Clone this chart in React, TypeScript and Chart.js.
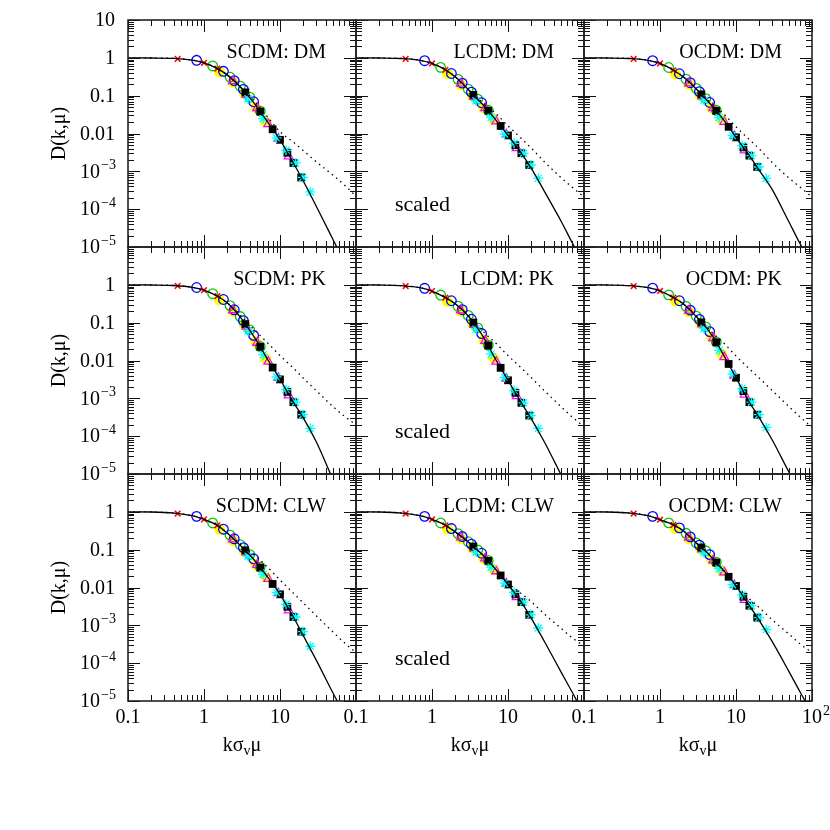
import React, { useEffect, useRef } from "react";
import { Chart, registerables } from "chart.js";

Chart.register(...registerables);

// ---------- data ----------
const kGrid = [0.1, 0.2, 0.4, 0.7, 1, 1.5, 2, 3, 4, 5, 7, 10, 15, 20, 30, 50, 70, 100];

const panelTitles = [
  "SCDM: DM", "LCDM: DM", "OCDM: DM",
  "SCDM: PK", "LCDM: PK", "OCDM: PK",
  "SCDM: CLW", "LCDM: CLW", "OCDM: CLW",
];

// tick labels (base text + superscript exponent)
const xTickValues = [0.1, 1, 10, 100];
const xTickBase = ["0.1", "1", "10", "10"];
const xTickExp = ["", "", "", "2"];
const yTickValues = [10, 1, 0.1, 0.01, 1e-3, 1e-4, 1e-5];
const yTickBase = ["10", "1", "0.1", "0.01", "10", "10", "10"];
const yTickExp = ["", "", "", "", "−3", "−4", "−5"];

// solid model curves on kGrid
const solidScdmDm = [1, 0.99, 0.97, 0.87, 0.74, 0.52, 0.36, 0.17, 0.089, 0.05, 0.019, 6.8e-3, 1.66e-3, 5.8e-4, 1.2e-4, 1.55e-5, 4e-6, 9e-7];
const solidLcdmDm = [1, 0.99, 0.96, 0.86, 0.71, 0.48, 0.32, 0.145, 0.079, 0.05, 0.022, 8.9e-3, 3e-3, 1.26e-3, 3e-4, 4.8e-5, 1.3e-5, 3.5e-6];
const solidOcdmDm = [1, 0.99, 0.96, 0.86, 0.71, 0.47, 0.32, 0.15, 0.081, 0.05, 0.022, 7.9e-3, 2.6e-3, 1.1e-3, 3.3e-4, 4.5e-5, 1.2e-5, 3.2e-6];
const solidScdmPk = [1, 0.99, 0.96, 0.86, 0.72, 0.5, 0.34, 0.14, 0.063, 0.032, 0.01, 3.2e-3, 7.9e-4, 3.2e-4, 7.1e-5, 7.1e-6, 1.8e-6, 4e-7];
const solidLcdmPk = [1, 0.99, 0.95, 0.84, 0.68, 0.46, 0.32, 0.15, 0.071, 0.035, 0.01, 3e-3, 7.6e-4, 3e-4, 7.1e-5, 9.5e-6, 2.5e-6, 6.3e-7];
const solidOcdmPk = [1, 0.99, 0.95, 0.84, 0.69, 0.46, 0.32, 0.145, 0.076, 0.042, 0.013, 3.5e-3, 7.9e-4, 3.2e-4, 7.9e-5, 1.1e-5, 3.2e-6, 7.9e-7];
const solidScdmClw = [1, 0.99, 0.93, 0.79, 0.63, 0.44, 0.28, 0.13, 0.072, 0.043, 0.018, 6.6e-3, 1.66e-3, 5.6e-4, 1.2e-4, 1.6e-5, 4.5e-6, 1.1e-6];
const solidLcdmClw = [1, 0.99, 0.93, 0.79, 0.63, 0.44, 0.3, 0.16, 0.095, 0.063, 0.029, 0.012, 4.1e-3, 1.6e-3, 3.8e-4, 5.8e-5, 1.7e-5, 4.5e-6];
const solidOcdmClw = [1, 0.99, 0.93, 0.79, 0.62, 0.45, 0.32, 0.15, 0.091, 0.056, 0.027, 0.011, 3.3e-3, 1.4e-3, 3.7e-4, 5.9e-5, 1.7e-5, 4.8e-6];

// dotted model curves on kGrid
const dotScdmDm = [1, 0.99, 0.97, 0.87, 0.74, 0.52, 0.36, 0.17, 0.1, 0.059, 0.026, 0.0112, 5.9e-3, 3.6e-3, 1.8e-3, 7.8e-4, 4.4e-4, 2.2e-4];
const dotLcdmDm = [1, 0.99, 0.96, 0.86, 0.71, 0.48, 0.32, 0.145, 0.085, 0.058, 0.033, 0.0158, 7.4e-3, 4.2e-3, 1.8e-3, 6.8e-4, 3.8e-4, 2.1e-4];
const dotOcdmDm = [1, 0.99, 0.96, 0.86, 0.71, 0.47, 0.32, 0.15, 0.085, 0.058, 0.032, 0.015, 6.9e-3, 4e-3, 1.7e-3, 6.6e-4, 3.8e-4, 2.1e-4];
const dotScdmPk = [1, 0.99, 0.96, 0.86, 0.72, 0.5, 0.34, 0.16, 0.085, 0.055, 0.028, 0.0135, 6.3e-3, 3.5e-3, 1.6e-3, 6e-4, 3.4e-4, 2e-4];
const dotLcdmPk = [1, 0.99, 0.95, 0.84, 0.68, 0.46, 0.32, 0.16, 0.083, 0.052, 0.028, 0.0135, 6.3e-3, 3.6e-3, 1.6e-3, 6e-4, 3.2e-4, 1.8e-4];
const dotOcdmPk = [1, 0.99, 0.95, 0.84, 0.69, 0.46, 0.32, 0.15, 0.083, 0.052, 0.028, 0.0132, 6e-3, 3.5e-3, 1.6e-3, 6e-4, 3.2e-4, 1.7e-4];
const dotScdmClw = [1, 0.99, 0.93, 0.79, 0.63, 0.44, 0.28, 0.14, 0.089, 0.063, 0.033, 0.0158, 7.1e-3, 4e-3, 1.8e-3, 6.6e-4, 3.5e-4, 1.9e-4];
const dotLcdmClw = [1, 0.99, 0.93, 0.79, 0.63, 0.44, 0.3, 0.16, 0.095, 0.063, 0.029, 0.0132, 6.9e-3, 4.3e-3, 2e-3, 8.3e-4, 4.7e-4, 2.8e-4];
const dotOcdmClw = [1, 0.99, 0.93, 0.79, 0.62, 0.45, 0.32, 0.15, 0.091, 0.056, 0.027, 0.0115, 5e-3, 3e-3, 1.4e-3, 5.8e-4, 3.2e-4, 1.9e-4];

const solidCurves = [solidScdmDm, solidLcdmDm, solidOcdmDm, solidScdmPk, solidLcdmPk, solidOcdmPk, solidScdmClw, solidLcdmClw, solidOcdmClw];
const dottedCurves = [dotScdmDm, dotLcdmDm, dotOcdmDm, dotScdmPk, dotLcdmPk, dotOcdmPk, dotScdmClw, dotLcdmClw, dotOcdmClw];

// measured points: k sigma_v mu values per symbol
const redK = [0.45, 1.0, 1.5];
const blueK = [0.8, 1.8, 2.5, 3.3, 4.5];
const greenK = [1.3, 2.2, 3.0, 4.0, 5.5];
const yellowK = [1.6, 2.4, 3.4, 4.8, 6.5];
const magentaK = [2.4, 3.6, 5.0, 7.0, 9.5, 13];
const blackK = [3.5, 5.5, 8.0, 10, 12.5, 15, 19];
const cyanK = [3.8, 6.0, 9.0, 12, 16, 20, 25];

// D values per panel (SCDM DM ... OCDM CLW)
const redD = [
  [0.94, 0.74, 0.52], [0.94, 0.71, 0.48], [0.94, 0.71, 0.47],
  [0.94, 0.72, 0.5], [0.93, 0.68, 0.46], [0.93, 0.69, 0.46],
  [0.9, 0.63, 0.44], [0.9, 0.63, 0.44], [0.9, 0.62, 0.45],
];
const blueD = [
  [0.86, 0.44, 0.25, 0.146, 0.069], [0.84, 0.385, 0.215, 0.124, 0.065], [0.84, 0.38, 0.22, 0.128, 0.066],
  [0.85, 0.41, 0.219, 0.113, 0.046], [0.81, 0.38, 0.22, 0.123, 0.0515], [0.82, 0.38, 0.215, 0.122, 0.058],
  [0.76, 0.347, 0.194, 0.113, 0.0574], [0.76, 0.362, 0.222, 0.14, 0.0804], [0.76, 0.376, 0.218, 0.132, 0.0741],
];
const greenD = [
  [0.61, 0.31, 0.178, 0.091, 0.039], [0.56, 0.27, 0.148, 0.081, 0.041], [0.555, 0.272, 0.155, 0.083, 0.041],
  [0.583, 0.282, 0.145, 0.0646, 0.0234], [0.537, 0.272, 0.155, 0.0724, 0.0254], [0.542, 0.27, 0.148, 0.0776, 0.0309],
  [0.508, 0.242, 0.135, 0.0741, 0.0344], [0.508, 0.266, 0.162, 0.0977, 0.0518], [0.512, 0.271, 0.151, 0.0933, 0.0468],
];
const yellowD = [
  [0.42, 0.227, 0.114, 0.049, 0.0205], [0.38, 0.194, 0.097, 0.0475, 0.0232], [0.373, 0.198, 0.1, 0.0478, 0.0228],
  [0.4, 0.199, 0.0869, 0.0313, 0.0112], [0.366, 0.198, 0.0948, 0.0352, 0.0115], [0.366, 0.194, 0.0953, 0.0406, 0.0148],
  [0.344, 0.175, 0.0887, 0.041, 0.0191], [0.35, 0.197, 0.111, 0.0593, 0.0298], [0.36, 0.196, 0.104, 0.0536, 0.0275],
];
const magentaD = [
  [0.243, 0.106, 0.047, 0.0178, 7.3e-3, 2.5e-3], [0.208, 0.0925, 0.0468, 0.0209, 9.5e-3, 4.1e-3], [0.212, 0.0953, 0.0468, 0.0204, 8.6e-3, 3.6e-3],
  [0.213, 0.0793, 0.0295, 9.3e-3, 3.5e-3, 1.2e-3], [0.212, 0.0873, 0.0331, 9.3e-3, 3.3e-3, 1.15e-3], [0.208, 0.0897, 0.0389, 0.0123, 4.0e-3, 1.26e-3],
  [0.187, 0.0843, 0.0398, 0.017, 7.1e-3, 2.5e-3], [0.211, 0.107, 0.0589, 0.0269, 0.0127, 5.6e-3], [0.21, 0.102, 0.0525, 0.0251, 0.0116, 4.7e-3],
];
const blackD = [
  [0.122, 0.038, 0.0129, 6.8e-3, 3.1e-3, 1.66e-3, 6.9e-4], [0.105, 0.04, 0.0158, 8.9e-3, 4.9e-3, 3.0e-3, 1.47e-3], [0.108, 0.0397, 0.015, 7.9e-3, 4.3e-3, 2.6e-3, 1.3e-3],
  [0.0916, 0.0229, 6.5e-3, 3.16e-3, 1.48e-3, 7.9e-4, 3.7e-4], [0.1, 0.0248, 6.4e-3, 3.0e-3, 1.4e-3, 7.6e-4, 3.5e-4], [0.102, 0.0302, 8.1e-3, 3.5e-3, 1.56e-3, 7.9e-4, 3.7e-4],
  [0.0957, 0.0336, 0.0124, 6.6e-3, 3.1e-3, 1.66e-3, 6.8e-4], [0.121, 0.0506, 0.0208, 0.012, 6.6e-3, 4.1e-3, 1.9e-3], [0.114, 0.0457, 0.0192, 0.011, 5.7e-3, 3.3e-3, 1.6e-3],
];
const cyanD = [
  [0.0834, 0.0247, 7.7e-3, 3.6e-3, 1.66e-3, 6.9e-4, 2.85e-4], [0.0735, 0.0269, 9.7e-3, 5.5e-3, 3.0e-3, 1.47e-3, 6.6e-4], [0.0755, 0.0266, 8.9e-3, 4.8e-3, 2.6e-3, 1.3e-3, 6.5e-4],
  [0.0605, 0.0141, 3.7e-3, 1.7e-3, 7.9e-4, 3.7e-4, 1.6e-4], [0.0673, 0.0149, 3.6e-3, 1.6e-3, 7.6e-4, 3.5e-4, 1.6e-4], [0.0706, 0.0186, 4.4e-3, 1.8e-3, 7.9e-4, 3.7e-4, 1.7e-4],
  [0.067, 0.0224, 7.4e-3, 3.6e-3, 1.66e-3, 6.8e-4, 2.8e-4], [0.0869, 0.0344, 0.013, 7.4e-3, 4.1e-3, 1.9e-3, 8.5e-4], [0.0826, 0.0314, 0.0119, 6.4e-3, 3.3e-3, 1.6e-3, 7.7e-4],
];

// ---------- layout ----------
const W = 830;
const colLeft = [128, 356, 584];
const rowTop = [20, 247, 474];
const PW = 228;
const PH = 227;
const FONT = '"Liberation Serif", "Times New Roman", serif';
const BIG = `20px ${FONT}`;
const SUP = `14px ${FONT}`;

const pts = (ks: number[], ds: number[]) => ks.map((k, j) => ({ x: k, y: ds[j] }));

const decoPlugin = {
  id: "deco",
  afterDatasetsDraw(chart: any, _args: any, opts: any) {
    const { ctx, chartArea: a } = chart;
    const xs = chart.scales.x;
    const ys = chart.scales.y;
    ctx.save();
    // inward ticks on all four sides
    ctx.strokeStyle = "#111";
    ctx.lineWidth = 1;
    ctx.beginPath();
    for (let e = -1; e <= 2; e++) {
      for (let m = 1; m <= 9; m++) {
        const v = m * Math.pow(10, e);
        if (v > 100.0001) continue;
        const px = Math.round(xs.getPixelForValue(v)) + 0.5;
        const len = m === 1 ? 12 : 6;
        ctx.moveTo(px, a.bottom);
        ctx.lineTo(px, a.bottom - len);
        ctx.moveTo(px, a.top);
        ctx.lineTo(px, a.top + len);
      }
    }
    for (let e = -5; e <= 1; e++) {
      for (let m = 1; m <= 9; m++) {
        const v = m * Math.pow(10, e);
        if (v > 10.0001) continue;
        const py = Math.round(ys.getPixelForValue(v)) + 0.5;
        const len = m === 1 ? 12 : 6;
        ctx.moveTo(a.left, py);
        ctx.lineTo(a.left + len, py);
        ctx.moveTo(a.right, py);
        ctx.lineTo(a.right - len, py);
      }
    }
    ctx.stroke();
    // frame
    ctx.lineWidth = 1.6;
    ctx.strokeStyle = "#222";
    ctx.strokeRect(a.left, a.top, a.right - a.left, a.bottom - a.top);

    ctx.fillStyle = "#000";
    ctx.textBaseline = "middle";

    // y tick labels (left column)
    if (opts.col === 0) {
      for (let j = 0; j < yTickValues.length; j++) {
        if (j === 0 && opts.row !== 0) continue;
        const py = ys.getPixelForValue(yTickValues[j]);
        ctx.font = BIG;
        const wb = ctx.measureText(yTickBase[j]).width;
        ctx.font = SUP;
        const we = yTickExp[j] ? ctx.measureText(yTickExp[j]).width : 0;
        const x0 = a.left - 13 - wb - we;
        ctx.textAlign = "left";
        ctx.font = BIG;
        ctx.fillText(yTickBase[j], x0, py + 1);
        if (yTickExp[j]) {
          ctx.font = SUP;
          ctx.fillText(yTickExp[j], x0 + wb + 1, py - 6);
        }
      }
    }
    // x tick labels (bottom row)
    if (opts.row === 2) {
      for (let j = 0; j < xTickValues.length; j++) {
        if (j === 3 && opts.col !== 2) continue;
        const px = xs.getPixelForValue(xTickValues[j]);
        ctx.font = BIG;
        ctx.textAlign = "center";
        ctx.fillText(xTickBase[j], px, a.bottom + 17);
        if (xTickExp[j]) {
          const wb = ctx.measureText(xTickBase[j]).width;
          ctx.font = SUP;
          ctx.textAlign = "left";
          ctx.fillText(xTickExp[j], px + wb / 2 + 1, a.bottom + 10);
        }
      }
    }

    // panel label
    ctx.font = BIG;
    ctx.textAlign = "right";
    ctx.fillText(opts.title, a.right - 30, a.top + 33);
    if (opts.col === 1) {
      ctx.font = `22px ${FONT}`;
      ctx.textAlign = "left";
      ctx.fillText("scaled", a.left + 39, a.top + 185);
    }
    // axis titles
    if (opts.row === 2) {
      const cx = (a.left + a.right) / 2;
      const cy = 745;
      const small = `14px ${FONT}`;
      ctx.font = BIG;
      const w1 = ctx.measureText("kσ").width;
      const w3 = ctx.measureText("μ").width;
      ctx.font = small;
      const w2 = ctx.measureText("v").width;
      let x = cx - (w1 + w2 + w3) / 2;
      ctx.textAlign = "left";
      ctx.textBaseline = "alphabetic";
      ctx.font = BIG;
      ctx.fillText("kσ", x, cy + 6);
      x += w1;
      ctx.font = small;
      ctx.fillText("v", x, cy + 10);
      x += w2;
      ctx.font = BIG;
      ctx.fillText("μ", x, cy + 6);
    }
    if (opts.col === 0) {
      ctx.translate(60, (a.top + a.bottom) / 2);
      ctx.rotate(-Math.PI / 2);
      ctx.font = BIG;
      ctx.textAlign = "center";
      ctx.textBaseline = "middle";
      ctx.fillText("D(k,μ)", 0, 0);
    }
    ctx.restore();
  },
};

function buildConfig(i: number): any {
  const row = Math.floor(i / 3);
  const col = i % 3;
  const L = colLeft[col];
  const T = rowTop[row];
  const padding = {
    left: L,
    top: T,
    right: W - (L + PW),
    bottom: W - (T + PH),
  };
  const marker = (label: string, ks: number[], ds: number[], style: any, order: number) => ({
    label,
    data: pts(ks, ds),
    showLine: false,
    order,
    ...style,
  });
  return {
    type: "scatter",
    data: {
      datasets: [
        {
          label: "model",
          data: pts(kGrid, solidCurves[i]),
          showLine: true,
          borderColor: "#000",
          borderWidth: 1.3,
          pointRadius: 0,
          cubicInterpolationMode: "monotone",
          order: 0,
        },
        {
          label: "linear",
          data: pts(kGrid, dottedCurves[i]),
          showLine: true,
          borderColor: "#000",
          borderWidth: 1.3,
          borderDash: [1.5, 4],
          pointRadius: 0,
          cubicInterpolationMode: "monotone",
          order: 1,
        },
        marker("red", redK, redD[i], { pointStyle: "crossRot", pointRadius: 4, borderColor: "#ff0000", borderWidth: 1.5 }, 2),
        marker("cyan", cyanK, cyanD[i], { pointStyle: "star", pointRadius: 5, borderColor: "#00ffff", borderWidth: 1.3 }, 3),
        marker("black", blackK, blackD[i], { pointStyle: "rect", pointRadius: 5.5, backgroundColor: "#000", borderColor: "#000", borderWidth: 0 }, 4),
        marker("magenta", magentaK, magentaD[i], { pointStyle: "triangle", pointRadius: 5, backgroundColor: "rgba(0,0,0,0)", borderColor: "#ff00ff", borderWidth: 1.3 }, 5),
        marker("blue", blueK, blueD[i], { pointStyle: "circle", pointRadius: 4.8, backgroundColor: "rgba(0,0,0,0)", borderColor: "#0000ff", borderWidth: 1.3 }, 6),
        marker("green", greenK, greenD[i], { pointStyle: "circle", pointRadius: 4.8, backgroundColor: "rgba(0,0,0,0)", borderColor: "#00c800", borderWidth: 1.3 }, 7),
        marker("yellow", yellowK, yellowD[i], { pointStyle: "circle", pointRadius: 5.5, backgroundColor: "#ffff00", borderColor: "#ffff00", borderWidth: 0 }, 8),
      ],
    },
    options: {
      responsive: false,
      animation: false,
      devicePixelRatio: 1,
      events: [],
      layout: { padding },
      plugins: {
        legend: { display: false },
        tooltip: { enabled: false },
        deco: { title: panelTitles[i], row, col },
      },
      scales: {
        x: { type: "logarithmic", min: 0.1, max: 100, display: false },
        y: { type: "logarithmic", min: 1e-5, max: 10, display: false },
      },
    },
    plugins: [decoPlugin],
  };
}

function Panel({ index }: { index: number }) {
  const ref = useRef<HTMLCanvasElement>(null);
  useEffect(() => {
    if (!ref.current) return;
    const chart = new Chart(ref.current, buildConfig(index));
    return () => chart.destroy();
  }, [index]);
  return (
    <canvas
      ref={ref}
      width={W}
      height={W}
      style={{ position: "absolute", left: 0, top: 0, width: W, height: W }}
    />
  );
}

export default function App() {
  return (
    <div
      style={{
        position: "fixed",
        left: 0,
        top: 0,
        width: W,
        height: W,
        background: "#fff",
        overflow: "hidden",
      }}
    >
      {[0, 1, 2, 3, 4, 5, 6, 7, 8].map((i) => (
        <Panel key={i} index={i} />
      ))}
    </div>
  );
}
